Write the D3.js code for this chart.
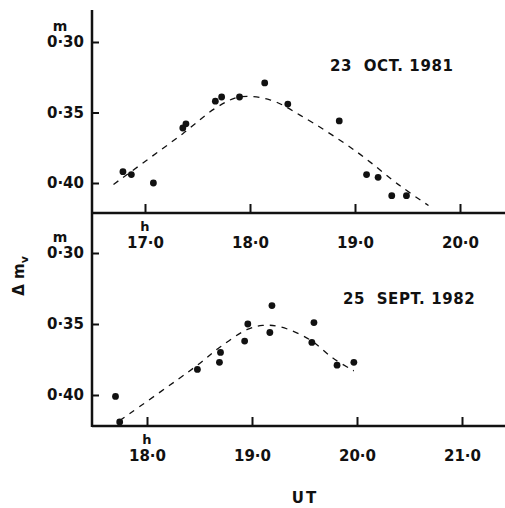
<!DOCTYPE html>
<html>
<head>
<meta charset="utf-8">
<script src="https://cdn.jsdelivr.net/npm/d3@7"></script>
<style>
  body { margin: 0; background: #fff; }
  svg { display: block; }
  text { font-family: "DejaVu Sans", sans-serif; font-weight: bold; fill: #111; }
</style>
</head>
<body>
<svg id="chart" width="505" height="508"></svg>
<script>
// top panel : 23 Oct 1981
var topTime = [16.79, 16.87, 17.08, 17.36, 17.39, 17.67, 17.73, 17.90, 18.14, 18.36, 18.85, 19.11, 19.22, 19.35, 19.49]
var topMag = [0.392, 0.394, 0.400, 0.361, 0.358, 0.342, 0.339, 0.339, 0.329, 0.344, 0.356, 0.394, 0.396, 0.409, 0.409]
var topFitTime = [16.70, 17.36, 17.67, 17.90, 18.19, 18.48, 19.00, 19.43, 19.70]
var topFitMag = [0.401, 0.365, 0.347, 0.339, 0.341, 0.352, 0.377, 0.402, 0.416]
var topTicks = [17, 18, 19, 20]

// bottom panel : 25 Sept 1982
var botTime = [17.70, 17.74, 18.48, 18.69, 18.70, 18.93, 18.96, 19.17, 19.19, 19.57, 19.59, 19.81, 19.97]
var botMag = [0.401, 0.419, 0.382, 0.377, 0.370, 0.362, 0.350, 0.356, 0.337, 0.363, 0.349, 0.379, 0.377]
var botFitTime = [17.74, 18.48, 18.70, 18.95, 19.10, 19.27, 19.55, 19.77, 19.97]
var botFitMag = [0.418, 0.379, 0.366, 0.354, 0.351, 0.352, 0.361, 0.374, 0.383]
var botTicks = [18, 19, 20, 21]

var magTicks = [0.30, 0.35, 0.40]

var width = 505
var axisX = 92

var svg = d3.select("#chart")

var panels = [
    { time: topTime, mag: topMag, fitT: topFitTime, fitM: topFitMag, ticks: topTicks,
      title: "23  OCT. 1981", titleX: 330, titleY: 71,
      x: d3.scaleLinear().domain([17, 20]).range([145, 460]),
      y: d3.scaleLinear().domain([0.30, 0.40]).range([42, 183]),
      base: 213 },
    { time: botTime, mag: botMag, fitT: botFitTime, fitM: botFitMag, ticks: botTicks,
      title: "25  SEPT. 1982", titleX: 343, titleY: 304,
      x: d3.scaleLinear().domain([18, 21]).range([147, 462]),
      y: d3.scaleLinear().domain([0.30, 0.40]).range([253, 395]),
      base: 426 }
]

// shared vertical axis line
svg.append("line")
    .attr("x1", axisX).attr("x2", axisX)
    .attr("y1", 10).attr("y2", 427)
    .attr("stroke", "#111").attr("stroke-width", 2.5)

panels.forEach(function (p) {
    var xAxis = d3.axisBottom(p.x)
        .tickValues(p.ticks)
        .tickSize(-9)
        .tickPadding(24)
        .tickFormat(function (d) { return d.toFixed(1).replace(".", "·") })

    var gx = svg.append("g")
        .attr("transform", `translate(0,${p.base})`)
        .call(xAxis)
    gx.select(".domain").remove()
    gx.selectAll("line").attr("stroke", "#111").attr("stroke-width", 2)
    gx.selectAll("text").attr("font-size", 15).attr("fill", "#111")
        .attr("font-family", "DejaVu Sans").attr("font-weight", "bold")

    svg.append("line")
        .attr("x1", axisX).attr("x2", width)
        .attr("y1", p.base).attr("y2", p.base)
        .attr("stroke", "#111").attr("stroke-width", 2.5)

    // "h" unit over first time label
    svg.append("text")
        .attr("x", p.x(p.ticks[0]))
        .attr("y", p.base + 18)
        .attr("text-anchor", "middle")
        .attr("font-size", 13)
        .text("h")

    var yAxis = d3.axisLeft(p.y)
        .tickValues(magTicks)
        .tickSize(-7)
        .tickPadding(8)
        .tickFormat(function (d) { return d.toFixed(2).replace(".", "·") })

    var gy = svg.append("g")
        .attr("transform", `translate(${axisX},0)`)
        .call(yAxis)
    gy.select(".domain").remove()
    gy.selectAll("line").attr("stroke", "#111").attr("stroke-width", 2)
    gy.selectAll("text").attr("font-size", 15).attr("fill", "#111")
        .attr("font-family", "DejaVu Sans").attr("font-weight", "bold")

    // "m" unit over 0.30
    svg.append("text")
        .attr("x", 60)
        .attr("y", p.y(0.30) - 11)
        .attr("text-anchor", "middle")
        .attr("font-size", 14)
        .text("m")

    var fit = p.fitT.map(function (t, i) { return [t, p.fitM[i]] })
    var line = d3.line()
        .curve(d3.curveCatmullRom)
        .x(function (d) { return p.x(d[0]) })
        .y(function (d) { return p.y(d[1]) })

    svg.append("path")
        .datum(fit)
        .attr("d", line)
        .attr("fill", "none")
        .attr("stroke", "#111")
        .attr("stroke-width", 1.3)
        .attr("stroke-dasharray", "6,6")

    svg.selectAll(null)
        .data(p.time.map(function (t, i) { return [t, p.mag[i]] }))
        .enter()
        .append("circle")
        .attr("cx", function (d) { return p.x(d[0]) })
        .attr("cy", function (d) { return p.y(d[1]) })
        .attr("r", 3.4)
        .attr("fill", "#111")

    svg.append("text")
        .attr("x", p.titleX)
        .attr("y", p.titleY)
        .attr("font-size", 15)
        .attr("letter-spacing", 0.6)
        .style("white-space", "pre")
        .text(p.title)
})

// y label
var yl = svg.append("text")
    .attr("transform", "translate(24,276) rotate(-90)")
    .attr("text-anchor", "middle")
    .attr("font-size", 15)
yl.append("tspan").text("Δ m")
yl.append("tspan").attr("font-size", 11).attr("dy", 4).text("v")

svg.append("text")
    .attr("x", 305)
    .attr("y", 503)
    .attr("text-anchor", "middle")
    .attr("font-size", 15)
    .attr("letter-spacing", 2)
    .text("UT")
</script>
</body>
</html>
